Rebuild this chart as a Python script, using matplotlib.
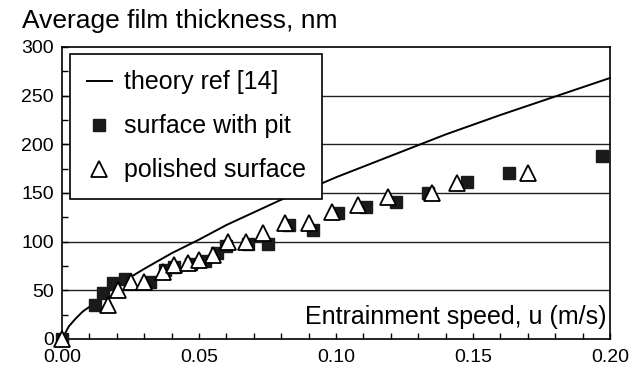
import matplotlib
matplotlib.use('Agg')
from matplotlib import pyplot as plt
from matplotlib.ticker import MultipleLocator
from matplotlib.lines import Line2D

# theory curve
theory_u = [0, 0.0025, 0.005, 0.0075, 0.01, 0.015, 0.02, 0.03, 0.04, 0.05, 0.06, 0.07,
            0.08, 0.09, 0.10, 0.12, 0.14, 0.16, 0.18, 0.20]
theory_h = [0, 13, 21, 28, 33, 45, 55, 72, 88, 102, 117, 130,
            143, 154, 166, 188, 210, 230, 249, 268]

# surface with pit (filled squares)
pit_u = [0.0, 0.012, 0.015, 0.0185, 0.023, 0.032, 0.0376, 0.041, 0.047, 0.052, 0.0566,
         0.060, 0.068, 0.075, 0.083, 0.0916, 0.1007, 0.111, 0.122, 0.1336, 0.148, 0.163, 0.197]
pit_h = [0, 35, 47, 57, 62, 58, 71, 74, 77, 80, 88,
         95, 97, 97, 117, 112, 129, 136, 141, 150, 161, 170, 188]

# polished surface (open triangles)
pol_u = [0.0, 0.0168, 0.0204, 0.025, 0.030, 0.037, 0.041, 0.046, 0.050, 0.055, 0.0606,
         0.067, 0.0735, 0.0814, 0.090, 0.0985, 0.108, 0.119, 0.135, 0.144, 0.170]
pol_h = [0, 35, 50, 58, 58, 69, 76, 78, 81, 86, 100,
         100, 109, 119, 119, 130, 138, 146, 150, 160, 170]

plt.rcParams['font.family'] = ['Liberation Sans', 'DejaVu Sans']

fig = plt.figure(figsize=(6.4, 3.72), dpi=100)
ax = fig.add_axes([0.097, 0.089, 0.856, 0.785])

for y in [50, 100, 150, 200, 250]:
    ax.axhline(y, color='#222222', lw=1.0, zorder=1)

ax.plot(theory_u, theory_h, color='black', lw=1.4, zorder=2, clip_on=False)
ax.plot(pit_u, pit_h, ls='none', marker='s', ms=9, mfc='#1a1a1a', mec='#1a1a1a',
        zorder=3, clip_on=False)
ax.plot(pol_u, pol_h, ls='none', marker='^', ms=11, mfc='white', mec='black', mew=1.3,
        zorder=4, clip_on=False)

ax.set_xlim(0, 0.2)
ax.set_ylim(0, 300)
ax.xaxis.set_major_locator(MultipleLocator(0.05))
ax.xaxis.set_minor_locator(MultipleLocator(0.01))
ax.yaxis.set_major_locator(MultipleLocator(50))
ax.yaxis.set_minor_locator(MultipleLocator(25))
ax.xaxis.set_major_formatter(lambda v, p: f'{v:.2f}')
ax.tick_params(which='both', direction='in', length=4, width=1, labelsize=14)
ax.tick_params(axis='x', pad=7)
ax.tick_params(axis='y', pad=6)
for s in ax.spines.values():
    s.set_linewidth(1.2)

ax.text(0.993, 0.035, 'Entrainment speed, u (m/s)', transform=ax.transAxes,
        ha='right', va='bottom', fontsize=18)
fig.text(0.035, 0.975, 'Average film thickness, nm', ha='left', va='top', fontsize=19)

handles = [Line2D([], [], color='black', lw=1.4),
           Line2D([], [], ls='none', marker='s', ms=9, mfc='#1a1a1a', mec='#1a1a1a'),
           Line2D([], [], ls='none', marker='^', ms=11, mfc='white', mec='black', mew=1.3)]
leg = ax.legend(handles, ['theory ref [14]', 'surface with pit', 'polished surface'],
                loc='upper left', bbox_to_anchor=(0.015, 0.975), fontsize=18,
                fancybox=False, framealpha=1, edgecolor='black', handlelength=1.0,
                handletextpad=0.5, borderpad=0.65, labelspacing=0.8, borderaxespad=0)
leg.get_frame().set_linewidth(1.2)
leg.set_zorder(5)

fig.savefig('out.png', dpi=100)
